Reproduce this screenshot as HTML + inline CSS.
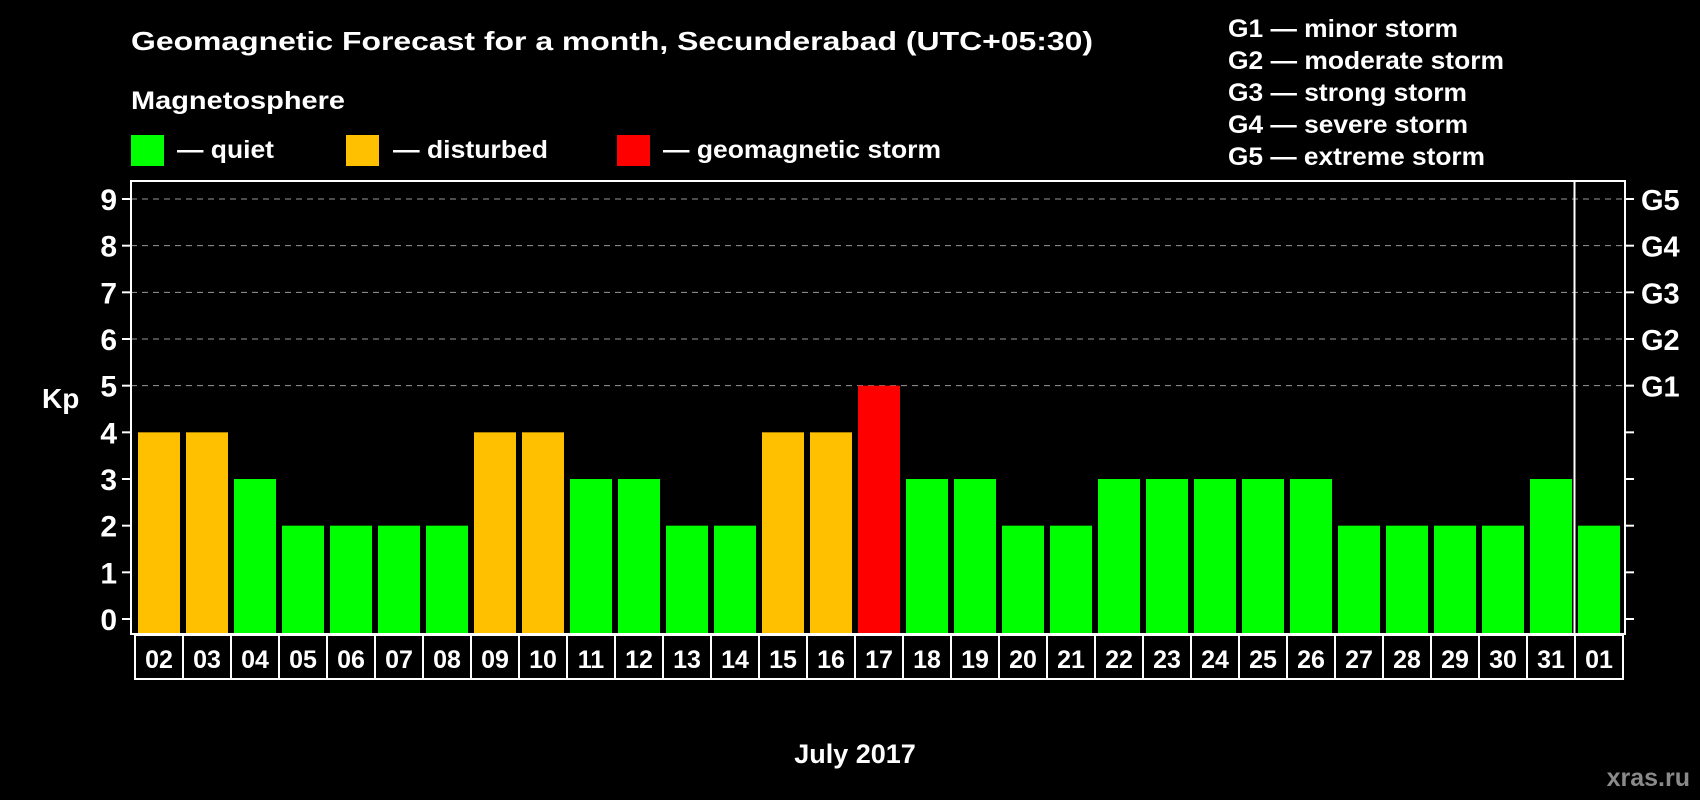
<!DOCTYPE html>
<html><head><meta charset="utf-8"><style>
html,body{margin:0;padding:0;background:#000;}
svg{display:block;font-family:"Liberation Sans",Arial,sans-serif;font-weight:bold;}
</style></head><body>
<svg width="1700" height="800" viewBox="0 0 1700 800">
<rect width="1700" height="800" fill="#000"/>
<text x="131" y="50" fill="#fff" font-size="26" textLength="962" lengthAdjust="spacingAndGlyphs">Geomagnetic Forecast for a month, Secunderabad (UTC+05:30)</text>
<text x="131" y="109" fill="#fff" font-size="25" textLength="214" lengthAdjust="spacingAndGlyphs">Magnetosphere</text>
<g>
<rect x="131" y="135" width="33" height="31" fill="#00ff00"/>
<text x="177" y="158" fill="#fff" font-size="25" textLength="97" lengthAdjust="spacingAndGlyphs">— quiet</text>
<rect x="346" y="135" width="33" height="31" fill="#ffc000"/>
<text x="393" y="158" fill="#fff" font-size="25" textLength="155" lengthAdjust="spacingAndGlyphs">— disturbed</text>
<rect x="617" y="135" width="33" height="31" fill="#ff0000"/>
<text x="663" y="158" fill="#fff" font-size="25" textLength="278" lengthAdjust="spacingAndGlyphs">— geomagnetic storm</text>
</g>
<g font-size="25" fill="#fff">
<text x="1228" y="37" textLength="230" lengthAdjust="spacingAndGlyphs">G1 — minor storm</text>
<text x="1228" y="69" textLength="276" lengthAdjust="spacingAndGlyphs">G2 — moderate storm</text>
<text x="1228" y="101" textLength="239" lengthAdjust="spacingAndGlyphs">G3 — strong storm</text>
<text x="1228" y="133" textLength="240" lengthAdjust="spacingAndGlyphs">G4 — severe storm</text>
<text x="1228" y="165" textLength="257" lengthAdjust="spacingAndGlyphs">G5 — extreme storm</text>
</g>
<g id="plot"></g>
<text x="42" y="408" fill="#fff" font-size="28">Kp</text>
<text x="855" y="763" fill="#fff" font-size="27" text-anchor="middle">July 2017</text>
<text x="1690" y="786" fill="#8a8a8a" font-size="25" text-anchor="end">xras.ru</text>
</svg>
<script>
const days = ["02","03","04","05","06","07","08","09","10","11","12","13","14","15","16","17","18","19","20","21","22","23","24","25","26","27","28","29","30","31","01"];
const kpValues = [4,4,3,2,2,2,2,4,4,3,3,2,2,4,4,5,3,3,2,2,3,3,3,3,3,2,2,2,2,3,2];
const yTicks = [0,1,2,3,4,5,6,7,8,9];
const gLabels = ["G1","G2","G3","G4","G5"];

const NS="http://www.w3.org/2000/svg";
const g=document.getElementById('plot');
const boxL=131, boxR=1625, boxT=181, boxB=634;
const y0=619, unit=(619-199)/9;
const yScale=v=>y0-v*unit;
const step=48, first=135;
const xScale=i=>first+i*step;
function mk(tag,attrs){const e=document.createElementNS(NS,tag);for(const k in attrs)e.setAttribute(k,attrs[k]);g.appendChild(e);return e;}
function color(v){return v>=5?"#ff0000":(v>=4?"#ffc000":"#00ff00");}

yTicks.forEach(t=>{
  if(t>=5){
    const l=mk('line',{x1:boxL,x2:boxR,y1:yScale(t),y2:yScale(t),stroke:"#999","stroke-width":1,"stroke-dasharray":"6,5"});
    
    
  }
  const tl=mk('line',{x1:122,x2:boxL,y1:yScale(t),y2:yScale(t),stroke:"#fff","stroke-width":2});
  
  
  const tr=mk('line',{x1:boxR,x2:1634,y1:yScale(t),y2:yScale(t),stroke:"#fff","stroke-width":2});
  
  
  const tx=mk('text',{x:117,y:yScale(t)+11,fill:"#fff","font-size":30,"text-anchor":"end"});
  tx.textContent=t;
  
  
});
gLabels.forEach((lab,i)=>{
  const tx=mk('text',{x:1641,y:yScale(5+i)+11,fill:"#fff","font-size":29});
  tx.textContent=lab;
  
  
});
kpValues.forEach((v,i)=>{
  const x=xScale(i)+3;
  const r=mk('rect',{x:x,y:yScale(v),width:42,height:633-yScale(v),fill:color(v)});
  
  
});
const fr=mk('rect',{x:boxL,y:boxT,width:boxR-boxL,height:boxB-boxT,fill:"none",stroke:"#fff","stroke-width":2});


const sep=mk('line',{x1:xScale(days.length-1)-0.5,x2:xScale(days.length-1)-0.5,y1:boxT,y2:boxB,stroke:"#fff","stroke-width":2});


days.forEach((d,i)=>{
  const x=xScale(i);
  const b=mk('rect',{x:x,y:635,width:step,height:44,fill:"none",stroke:"#fff","stroke-width":2});
  
  
  const t=mk('text',{x:x+step/2,y:668,fill:"#fff","font-size":25,"text-anchor":"middle"});
  t.textContent=d;
  
  
});
</script>
</body></html>
